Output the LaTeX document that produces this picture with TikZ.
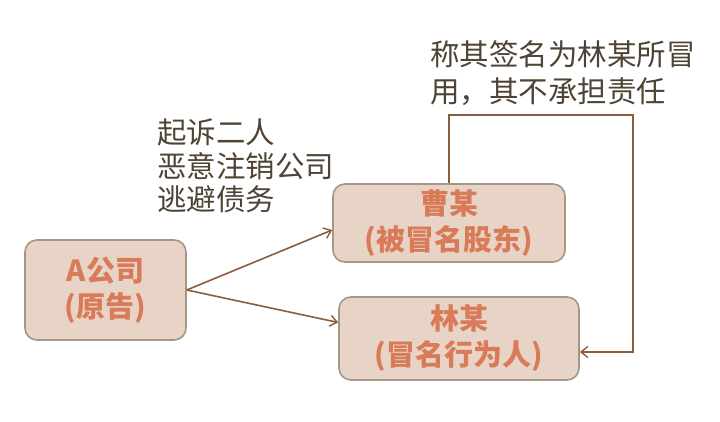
\documentclass[tikz,border=0pt]{standalone}
\usepackage{fontspec}
\newfontfamily\cjk{Noto Sans CJK SC}
\usetikzlibrary{arrows.meta, positioning, calc}
\definecolor{boxfill}{HTML}{E7D4C7}
\definecolor{boxline}{HTML}{A69685}
\definecolor{boxtext}{HTML}{D97A58}
\definecolor{arrowc}{HTML}{8C5C3C}
\definecolor{lbltext}{HTML}{4F4336}
\begin{document}
\begin{tikzpicture}[
    x=1pt, y=1pt,
    % --- Global styles ---
    >={Straight Barb[length=7pt,width=11pt,line width=1.4pt]},
    every node/.style={font=\cjk},
    % --- Party boxes ---
    party/.style={
      draw=boxline, fill=boxfill, line width=1.6pt,
      rounded corners=12pt, align=center, inner sep=0pt,
      text=boxtext, font=\cjk\bfseries\fontsize{29}{36}\selectfont,
    },
    % --- Arrow style ---
    flow/.style={->, line width=1.6pt, draw=arrowc},
    % --- Label style ---
    lbl/.style={align=left, inner sep=0pt, text=lbltext, anchor=west},
  ]
  \useasboundingbox (0,0) rectangle (720,422);

  %% ---- Nodes ----
  \node[party, minimum width=161pt, minimum height=100pt] (plaintiff)
    at (105.5,132) {A公司\\(原告)};
  \node[party, minimum width=232pt, minimum height=78pt] (cao)
    at (449,199) {曹某\\(被冒名股东)};
  \node[party, minimum width=240pt, minimum height=83pt] (lin)
    at (459,83.5) {林某\\(冒名行为人)};

  %% ---- Arrows ----
  \draw[flow] (plaintiff.east) -- ([yshift=-7pt]cao.west);
  \draw[flow] (plaintiff.east) -- ([yshift=16pt]lin.west);
  \draw[flow] (cao.north) |- (633,307) |- ([yshift=-13.5pt]lin.east);

  %% ---- Labels ----
  \node[lbl, font=\cjk\fontsize{29.5}{33.5}\selectfont] (claim) at (157,256)
    {起诉二人\\恶意注销公司\\逃避债务};
  \node[lbl, font=\cjk\fontsize{29.5}{37}\selectfont] (defense) at (430,348.5)
    {称其签名为林某所冒\\用，其不承担责任};

\end{tikzpicture}
\end{document}
